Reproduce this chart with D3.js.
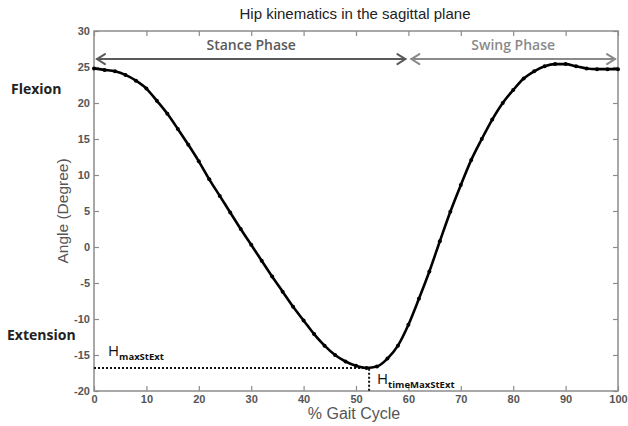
<!DOCTYPE html>
<html>
<head>
<meta charset="utf-8">
<script src="https://cdn.jsdelivr.net/npm/d3@7"></script>
<style>
  body { margin: 0; background: #fff; }
  text { font-family: "Liberation Sans", Arial, sans-serif; }
  .lbl { font-family: "Open Sans", "DejaVu Sans", sans-serif; }
</style>
</head>
<body>
<svg id="chart"></svg>
<script>
(function () {
var width = 628, height = 426

// hip angle every 2% of gait cycle
var gait = d3.range(0, 101, 2)
var angle = [24.8, 24.6, 24.4, 23.9, 23.1, 22.0, 20.3, 18.5, 16.4, 14.2,
             11.9, 9.4, 7.1, 4.8, 2.5, 0.3, -1.9, -4.1, -6.2, -8.3,
             -10.2, -12.1, -13.7, -15.0, -15.9, -16.5, -16.8, -16.6, -15.5, -13.7,
             -10.8, -7.2, -3.4, 0.8, 4.9, 8.6, 12.1, 15.0, 17.7, 20.0,
             21.8, 23.4, 24.4, 25.1, 25.4, 25.4, 25.1, 24.8, 24.7, 24.7, 24.7]
var xTicks = [0, 10, 20, 30, 40, 50, 60, 70, 80, 90, 100]
var yTicks = [-20, -15, -10, -5, 0, 5, 10, 15, 20, 25, 30]
var minPoint = {x: 52.5, y: -16.8}
var phases = [
    {label: 'Stance Phase', from: 0, to: 60, color: '#5a5a5a'},
    {label: 'Swing Phase', from: 60, to: 100, color: '#8a8a8a'}
]
var arrowLevel = 26.1

var svg = d3.select('#chart').attr('width', width).attr('height', height)

var x = d3.scaleLinear().domain([0, 100]).range([94, 618])
var y = d3.scaleLinear().domain([-20, 30]).range([391, 31])
var axisColor = '#8c8c8c'
var fmt = function (v) { return String(v) } // plain hyphen minus like matlab

// frame
svg.append('rect')
    .attr('x', x(0)).attr('y', y(30))
    .attr('width', x(100) - x(0)).attr('height', y(-20) - y(30))
    .attr('fill', 'none').attr('stroke', axisColor).attr('stroke-width', 1.5)

function styleAxis(g) {
    g.select('.domain').remove()
    g.selectAll('.tick line').attr('stroke', axisColor).attr('stroke-width', 1.2)
    g.selectAll('.tick text')
        .attr('fill', '#555').style('font-size', '11px').style('font-weight', 'bold')
        .style('font-family', '"Liberation Sans", Arial, sans-serif')
}

// ticks point inward
svg.append('g').attr('transform', 'translate(0,' + y(-20) + ')')
    .call(d3.axisBottom(x).tickValues(xTicks).tickSize(-5).tickPadding(4).tickFormat(fmt))
    .call(styleAxis)
svg.append('g').attr('transform', 'translate(0,' + y(30) + ')')
    .call(d3.axisTop(x).tickValues(xTicks).tickSize(-5).tickFormat(''))
    .call(styleAxis)
svg.append('g').attr('transform', 'translate(' + x(0) + ',0)')
    .call(d3.axisLeft(y).tickValues(yTicks).tickSize(-5).tickPadding(4).tickFormat(fmt))
    .call(styleAxis)
svg.append('g').attr('transform', 'translate(' + x(100) + ',0)')
    .call(d3.axisRight(y).tickValues(yTicks).tickSize(-5).tickFormat(''))
    .call(styleAxis)

// title and axis labels
svg.append('text').attr('x', 355).attr('y', 19).attr('text-anchor', 'middle')
    .style('font-size', '15px').attr('fill', '#222')
    .text('Hip kinematics in the sagittal plane')
svg.append('text').attr('x', 354).attr('y', 419).attr('text-anchor', 'middle')
    .style('font-size', '16px').attr('fill', '#555')
    .text('% Gait Cycle')
svg.append('text').attr('transform', 'translate(68,211) rotate(-90)')
    .attr('text-anchor', 'middle').style('font-size', '15.5px').attr('fill', '#555')
    .text('Angle (Degree)')
svg.append('text').attr('class', 'lbl').attr('x', 11).attr('y', 94)
    .style('font-size', '14px').style('font-weight', 'bold').attr('fill', '#222')
    .text('Flexion')
svg.append('text').attr('class', 'lbl').attr('x', 7).attr('y', 340)
    .style('font-size', '14px').style('font-weight', 'bold').attr('fill', '#222')
    .text('Extension')

// phase arrows
phases.forEach(function (p) {
    var x0 = x(p.from) + 3, x1 = x(p.to) - 3, yy = y(arrowLevel)
    var g = svg.append('g').attr('stroke', p.color).attr('fill', 'none')
        .attr('stroke-width', 2).attr('stroke-linecap', 'round')
    g.append('line').attr('x1', x0).attr('x2', x1).attr('y1', yy).attr('y2', yy)
    g.append('path').attr('d', 'M' + (x0 + 8) + ',' + (yy - 5) + 'L' + x0 + ',' + yy + 'L' + (x0 + 8) + ',' + (yy + 5))
    g.append('path').attr('d', 'M' + (x1 - 8) + ',' + (yy - 5) + 'L' + x1 + ',' + yy + 'L' + (x1 - 8) + ',' + (yy + 5))
    svg.append('text').attr('class', 'lbl')
        .attr('x', (x(p.from) + x(p.to)) / 2).attr('y', 50)
        .attr('text-anchor', 'middle').style('font-size', '14px').style('font-weight', '600')
        .attr('fill', p.color).text(p.label)
})

// min annotation
svg.append('path')
    .attr('d', 'M' + x(0) + ',' + y(minPoint.y) + 'H' + x(minPoint.x) + 'V' + y(-20))
    .attr('fill', 'none').attr('stroke', '#111').attr('stroke-width', 2)
    .attr('stroke-dasharray', '2,2')

function hLabel(px, py, sub) {
    var t = svg.append('text').attr('class', 'lbl').attr('x', px).attr('y', py).attr('fill', '#111')
    t.append('tspan').style('font-size', '15px').text('H')
    t.append('tspan').attr('dy', 4).style('font-size', '9.5px').style('font-weight', 'bold').text(sub)
}
hLabel(108, 356, 'maxStExt')
hLabel(377, 384, 'timeMaxStExt')

// curve
var pts = gait.map(function (g, i) { return {x: g, y: angle[i]} })
var line = d3.line().x(function (d) { return x(d.x) }).y(function (d) { return y(d.y) })
    .curve(d3.curveMonotoneX)
svg.append('path').datum(pts).attr('d', line)
    .attr('fill', 'none').attr('stroke', '#000').attr('stroke-width', 2.6)
svg.selectAll('circle.pt').data(pts).enter().append('circle').attr('class', 'pt')
    .attr('cx', function (d) { return x(d.x) })
    .attr('cy', function (d) { return y(d.y) })
    .attr('r', 2).attr('fill', '#000')
})();
</script>
</body>
</html>
